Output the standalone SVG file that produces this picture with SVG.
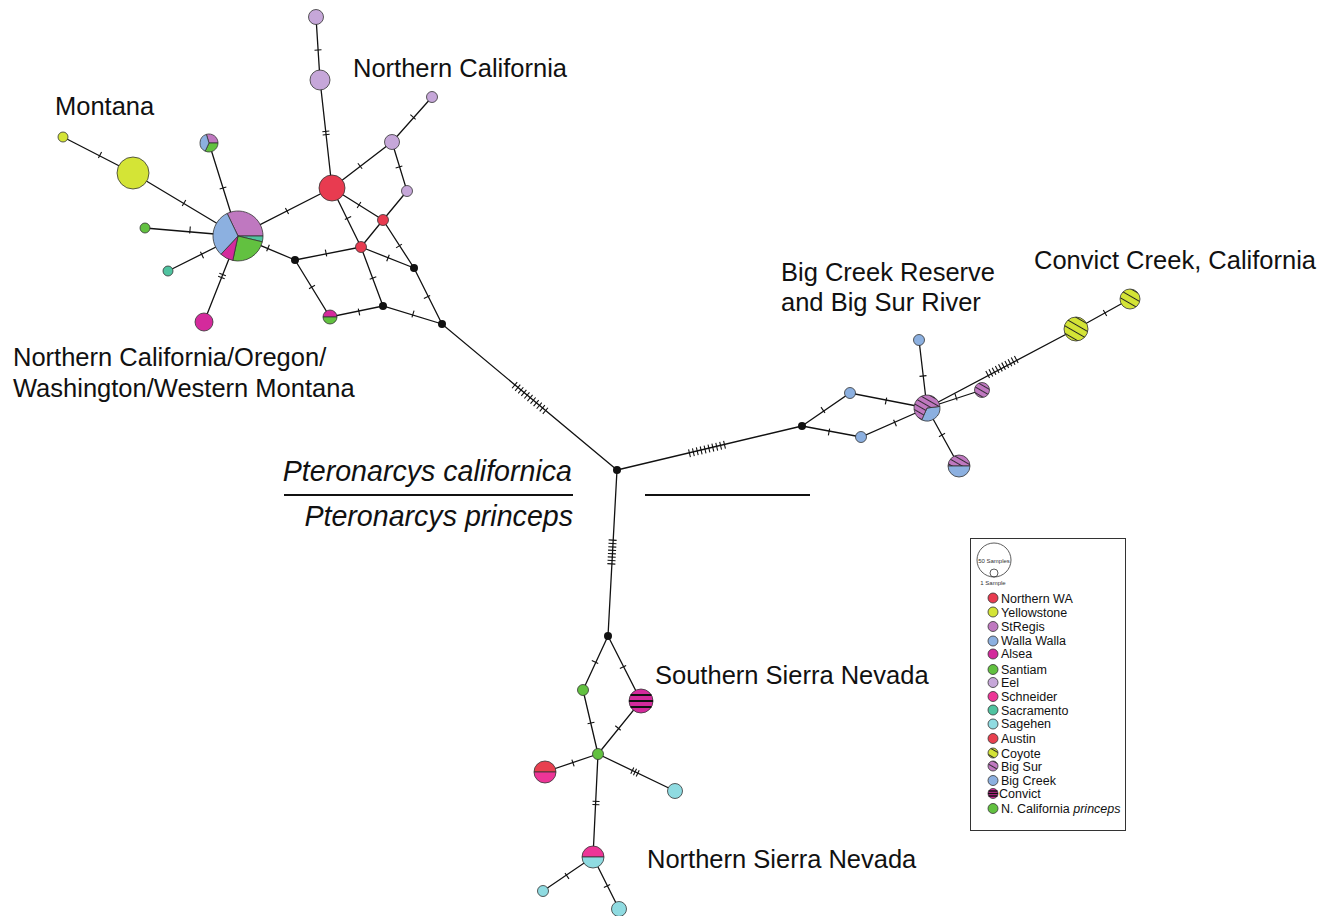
<svg xmlns="http://www.w3.org/2000/svg" xmlns:xlink="http://www.w3.org/1999/xlink" width="1324" height="916" viewBox="0 0 1324 916">
<style>
.e{fill:none;stroke:#111;stroke-width:1.3}
.t{fill:none;stroke:#111;stroke-width:1.1}
.n{stroke:#333;stroke-width:0.8}
.k{fill:#111}
.lbl{font-family:"Liberation Sans",Arial,Helvetica,sans-serif;font-size:25.5px;fill:#111}
.it{font-style:italic;font-size:28.6px}
.lg{font-family:"Liberation Sans",Arial,Helvetica,sans-serif;font-size:12.5px;fill:#111}
.tiny{font-family:"Liberation Sans",Arial,sans-serif;font-size:6px;fill:#333}
.nwa{fill:#e83b50}.yel{fill:#d4e436}.str{fill:#bf78c0}.ww{fill:#8cb0e0}.als{fill:#d42a9c}
.san{fill:#62c140}.eel{fill:#c6a7d9}.sch{fill:#ed3597}.sac{fill:#50c3a0}.sag{fill:#8fdbe1}
.aus{fill:#e8404f}
.stripe{stroke:#111;stroke-width:2.2}
</style>
<defs>
<pattern id="hy" width="6.5" height="6.5" patternUnits="userSpaceOnUse" patternTransform="rotate(30)"><rect width="6.5" height="6.5" fill="#d4e436"/><line x1="0" y1="3.25" x2="6.5" y2="3.25" stroke="#222" stroke-width="1"/></pattern>
<pattern id="hp" width="5" height="5" patternUnits="userSpaceOnUse" patternTransform="rotate(30)"><rect width="5" height="5" fill="#bf78c0"/><line x1="0" y1="2.5" x2="5" y2="2.5" stroke="#222" stroke-width="0.9"/></pattern>
<path id="t1" class="t" d="M0,-3.5V3.5"/>
<path id="t2" class="t" d="M-1.6,-3.5V3.5M1.6,-3.5V3.5"/>
<path id="t3" class="t" d="M-3,-3.5V3.5M0,-3.5V3.5M3,-3.5V3.5"/>
<path id="t8" class="t" d="M-11.9,-4V4M-8.5,-4V4M-5.1,-4V4M-1.7,-4V4M1.7,-4V4M5.1,-4V4M8.5,-4V4M11.9,-4V4"/>
<path id="t10" class="t" d="M-18,-4V4M-14,-4V4M-10,-4V4M-6,-4V4M-2,-4V4M2,-4V4M6,-4V4M10,-4V4M14,-4V4M18,-4V4"/>
<path id="t10c" class="t" d="M-16.2,-4V4M-12.6,-4V4M-9,-4V4M-5.4,-4V4M-1.8,-4V4M1.8,-4V4M5.4,-4V4M9,-4V4M12.6,-4V4M16.2,-4V4"/>
<path id="t11" class="t" d="M-20,-4V4M-16,-4V4M-12,-4V4M-8,-4V4M-4,-4V4M0,-4V4M4,-4V4M8,-4V4M12,-4V4M16,-4V4M20,-4V4"/>
</defs>
<rect width="1324" height="916" fill="#fff"/>

<g id="connectors">
<path class="e" d="M238,236L133,173L63,137M238,236L209,143M238,236L145,228M238,236L168,271M238,236L204,322M238,236L332,188M238,236L295,260
M332,188L320,80L316,17M332,188L392,142L432,97M392,142L407,191L383,220M332,188L383,220M332,188L361,247M383,220L361,247
M383,220L414,268L442,324M361,247L414,268M361,247L295,260M361,247L383,306M295,260L330,317L383,306L442,324L617,470
M617,470L802,426M617,470L608,636
M802,426L850,393L927,408M802,426L861,437L927,408M927,408L919,340M927,408L982,390M927,408L959,466M927,408L1076,329L1130,299
M608,636L583,690L598,754M608,636L641,701L598,754M598,754L545,772M598,754L675,791M598,754L593,857L543,891M593,857L619,909"/>
<g id="ticks">
<use href="#t1" transform="translate(184,203) rotate(31)"/>
<use href="#t1" transform="translate(100,155) rotate(27)"/>
<use href="#t1" transform="translate(223,188) rotate(72.7)"/>
<use href="#t1" transform="translate(190,230) rotate(4.9)"/>
<use href="#t1" transform="translate(202,255) rotate(-26.6)"/>
<use href="#t2" transform="translate(222,276) rotate(-68.4)"/>
<use href="#t1" transform="translate(287,211) rotate(-27)"/>
<use href="#t1" transform="translate(268,248) rotate(22.8)"/>
<use href="#t2" transform="translate(326,133) rotate(83.7)"/>
<use href="#t1" transform="translate(318,50) rotate(86.4)"/>
<use href="#t1" transform="translate(360,166) rotate(-37.5)"/>
<use href="#t1" transform="translate(413,117) rotate(-48.4)"/>
<use href="#t1" transform="translate(399,167) rotate(73)"/>
<use href="#t1" transform="translate(359,205) rotate(32.1)"/>
<use href="#t1" transform="translate(348,218) rotate(63.8)"/>
<use href="#t1" transform="translate(399,246) rotate(57.1)"/>
<use href="#t1" transform="translate(427,297) rotate(63.4)"/>
<use href="#t1" transform="translate(388,258) rotate(21.6)"/>
<use href="#t1" transform="translate(326,253) rotate(-11.1)"/>
<use href="#t1" transform="translate(373,278) rotate(69.5)"/>
<use href="#t1" transform="translate(312,287) rotate(58.4)"/>
<use href="#t1" transform="translate(359,312) rotate(-11.7)"/>
<use href="#t1" transform="translate(413,314) rotate(17)"/>
<use href="#t11" transform="translate(530,398) rotate(39.8)"/>
<use href="#t10" transform="translate(707,449) rotate(-13.4)"/>
<use href="#t8" transform="translate(612,552) rotate(93.1)"/>
<use href="#t1" transform="translate(823,410) rotate(-34.5)"/>
<use href="#t1" transform="translate(829,432) rotate(10.6)"/>
<use href="#t1" transform="translate(886,401) rotate(11)"/>
<use href="#t1" transform="translate(895,423) rotate(-23.7)"/>
<use href="#t1" transform="translate(923,376) rotate(83.3)"/>
<use href="#t1" transform="translate(956,397) rotate(-18.1)"/>
<use href="#t1" transform="translate(942,435) rotate(61.1)"/>
<use href="#t10c" transform="translate(1002,367) rotate(-27.9)"/>
<use href="#t1" transform="translate(1105,313) rotate(-29)"/>
<use href="#t1" transform="translate(595,662) rotate(-65.2)"/>
<use href="#t1" transform="translate(623,667) rotate(63.1)"/>
<use href="#t1" transform="translate(591,723) rotate(76.8)"/>
<use href="#t1" transform="translate(618,728) rotate(129)"/>
<use href="#t1" transform="translate(573,763) rotate(161.2)"/>
<use href="#t3" transform="translate(635,772) rotate(25.7)"/>
<use href="#t2" transform="translate(596,803) rotate(92.8)"/>
<use href="#t1" transform="translate(567,876) rotate(145.8)"/>
<use href="#t1" transform="translate(607,886) rotate(63.4)"/>
</g>
</g>

<g id="node-bigpie">
<path class="n str" d="M238,236L227.2,213.45A25,25 0 0 1 263,236Z"/>
<path class="n sac" d="M238,236L263,236A25,25 0 0 1 262.31,241.84Z"/>
<path class="n san" d="M238,236L262.31,241.84A25,25 0 0 1 232.8,260.45Z"/>
<path class="n als" d="M238,236L232.8,260.45A25,25 0 0 1 220.95,254.28Z"/>
<path class="n ww" d="M238,236L220.95,254.28A25,25 0 0 1 227.2,213.45Z"/>
</g>
<g id="node-smallpie">
<path class="n str" d="M209,143L206.37,134.39A9,9 0 0 1 218,143Z"/>
<path class="n san" d="M209,143L218,143A9,9 0 0 1 205.2,151.16Z"/>
<path class="n ww" d="M209,143L205.2,151.16A9,9 0 0 1 206.37,134.39Z"/>
</g>
<g id="node-montana"><circle class="n yel" cx="133" cy="173" r="16"/></g>
<g id="node-montana2"><circle class="n yel" cx="63" cy="137" r="5"/></g>
<g id="node-santiam"><circle class="n san" cx="145" cy="228" r="5"/></g>
<g id="node-sacramento"><circle class="n sac" cx="168" cy="271" r="5"/></g>
<g id="node-alsea"><circle class="n als" cx="204" cy="322" r="9"/></g>
<g id="node-nwa"><circle class="n nwa" cx="332" cy="188" r="13"/></g>
<g id="node-eel1"><circle class="n eel" cx="316" cy="17" r="7.5"/></g>
<g id="node-eel2"><circle class="n eel" cx="320" cy="80" r="10"/></g>
<g id="node-eel3"><circle class="n eel" cx="392" cy="142" r="7.5"/></g>
<g id="node-eel4"><circle class="n eel" cx="432" cy="97" r="5.5"/></g>
<g id="node-eel5"><circle class="n eel" cx="407" cy="191" r="5.5"/></g>
<g id="node-nwa2"><circle class="n nwa" cx="383" cy="220" r="5.5"/></g>
<g id="node-nwa3"><circle class="n nwa" cx="361" cy="247" r="5.5"/></g>
<g id="node-half">
<path class="n als" d="M323,317A7,7 0 0 1 337,317Z"/>
<path class="n san" d="M323,317A7,7 0 0 0 337,317Z"/>
</g>
<g id="node-black"><circle class="k" cx="295" cy="260" r="4"/><circle class="k" cx="414" cy="268" r="4"/><circle class="k" cx="383" cy="306" r="4"/><circle class="k" cx="442" cy="324" r="4"/><circle class="k" cx="617" cy="470" r="4"/><circle class="k" cx="802" cy="426" r="4"/><circle class="k" cx="608" cy="636" r="4"/></g>

<g id="node-bc1"><circle class="n ww" cx="850" cy="393" r="5.5"/></g>
<g id="node-bc2"><circle class="n ww" cx="861" cy="437" r="5.5"/></g>
<g id="node-bc3"><circle class="n ww" cx="919" cy="340" r="5.5"/></g>
<g id="node-bigsur-pie">
<path class="n ww" d="M927,408L939.9,406.42A13,13 0 0 1 921.71,419.88Z"/>
<path class="n" fill="url(#hp)" d="M927,408L921.71,419.88A13,13 0 1 1 939.9,406.42Z"/>
</g>
<g id="node-bigsur"><circle class="n" fill="url(#hp)" cx="982" cy="390" r="7.5"/></g>
<g id="node-bigsur-half">
<path class="n" fill="url(#hp)" d="M948,466A11,11 0 0 1 970,466Z"/>
<path class="n ww" d="M948,466A11,11 0 0 0 970,466Z"/>
</g>
<g id="node-coyote1"><circle class="n" fill="url(#hy)" cx="1076" cy="329" r="12"/></g>
<g id="node-coyote2"><circle class="n" fill="url(#hy)" cx="1130" cy="299" r="10"/></g>

<g id="node-g1"><circle class="n san" cx="583" cy="690" r="5.5"/></g>
<g id="node-g2"><circle class="n san" cx="598" cy="754" r="5.5"/></g>
<g id="node-convict">
<circle class="n als" cx="641" cy="701" r="12"/>
<path class="stripe" d="M630.6,695H651.4M629,701H653M630.6,707H651.4"/>
</g>
<g id="node-rp">
<path class="n aus" d="M534,772A11,11 0 0 1 556,772Z"/>
<path class="n sch" d="M534,772A11,11 0 0 0 556,772Z"/>
</g>
<g id="node-sag1"><circle class="n sag" cx="675" cy="791" r="7.5"/></g>
<g id="node-ps">
<path class="n sch" d="M582,857A11,11 0 0 1 604,857Z"/>
<path class="n sag" d="M582,857A11,11 0 0 0 604,857Z"/>
</g>
<g id="node-sag2"><circle class="n sag" cx="543" cy="891" r="5.5"/></g>
<g id="node-sag3"><circle class="n sag" cx="619" cy="909" r="7.5"/></g>

<g id="labels">
<text class="lbl" x="353" y="77">Northern California</text>
<text class="lbl" x="55" y="115">Montana</text>
<text class="lbl" x="13" y="366">Northern California/Oregon/</text>
<text class="lbl" x="13" y="397">Washington/Western Montana</text>
<text class="lbl" x="781" y="281">Big Creek Reserve</text>
<text class="lbl" x="781" y="311">and Big Sur River</text>
<text class="lbl" x="1034" y="269">Convict Creek, California</text>
<text class="lbl" x="655" y="684">Southern Sierra Nevada</text>
<text class="lbl" x="647" y="868">Northern Sierra Nevada</text>
<text class="lbl it" x="572" y="481" text-anchor="end">Pteronarcys californica</text>
<text class="lbl it" x="573" y="526" text-anchor="end">Pteronarcys princeps</text>
<path d="M284,495H573M645,495H810" stroke="#111" stroke-width="2"/>
</g>

<g id="legend">
<rect x="970.5" y="538.5" width="155" height="292" fill="#fff" stroke="#333" stroke-width="1"/>
<circle cx="994" cy="560" r="17" fill="none" stroke="#333" stroke-width="0.8"/>
<circle cx="994" cy="573" r="4" fill="none" stroke="#333" stroke-width="0.8"/>
<text class="tiny" x="994" y="563" text-anchor="middle">50 Samples</text>
<text class="tiny" x="993" y="585" text-anchor="middle">1 Sample</text>
<circle class="n nwa" cx="993" cy="598" r="5"/><text class="lg" x="1001" y="602.5">Northern WA</text>
<circle class="n yel" cx="993" cy="612" r="5"/><text class="lg" x="1001" y="616.5">Yellowstone</text>
<circle class="n str" cx="993" cy="626.5" r="5"/><text class="lg" x="1001" y="631">StRegis</text>
<circle class="n ww" cx="993" cy="641" r="5"/><text class="lg" x="1001" y="645">Walla Walla</text>
<circle class="n als" cx="993" cy="654" r="5"/><text class="lg" x="1001" y="658">Alsea</text>
<circle class="n san" cx="993" cy="669.5" r="5"/><text class="lg" x="1001" y="674">Santiam</text>
<circle class="n eel" cx="993" cy="682.5" r="5"/><text class="lg" x="1001" y="687">Eel</text>
<circle class="n sch" cx="993" cy="696.5" r="5"/><text class="lg" x="1001" y="701">Schneider</text>
<circle class="n sac" cx="993" cy="710" r="5"/><text class="lg" x="1001" y="714.5">Sacramento</text>
<circle class="n sag" cx="993" cy="724" r="5"/><text class="lg" x="1001" y="728">Sagehen</text>
<circle class="n aus" cx="993" cy="738.5" r="5"/><text class="lg" x="1001" y="743">Austin</text>
<circle class="n" fill="url(#hy)" cx="993" cy="753" r="5"/><text class="lg" x="1001" y="757.5">Coyote</text>
<circle class="n" fill="url(#hp)" cx="993" cy="766" r="5"/><text class="lg" x="1001" y="770.5">Big Sur</text>
<circle class="n ww" cx="993" cy="780.5" r="5"/><text class="lg" x="1001" y="785">Big Creek</text>
<g><circle class="n als" cx="993" cy="793.5" r="5"/><path stroke="#111" stroke-width="1.3" d="M988.6,791H997.4M988,793.5H998M988.6,796H997.4"/></g><text class="lg" x="999" y="798">Convict</text>
<circle class="n san" cx="993" cy="808.5" r="5"/><text class="lg" x="1001" y="813">N. California <tspan font-style="italic">princeps</tspan></text>
</g>
</svg>
